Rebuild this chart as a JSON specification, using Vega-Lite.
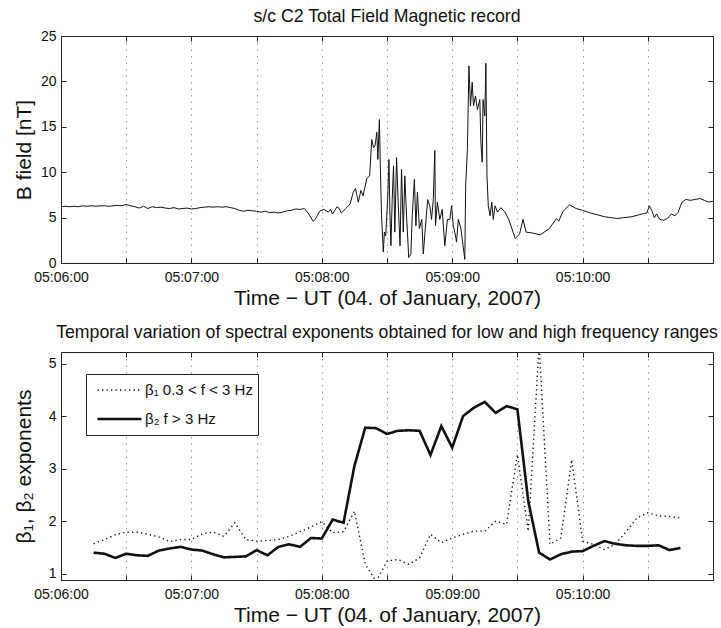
{
  "$schema": "https://vega.github.io/schema/vega-lite/v6.json",
  "padding": {"left": 12, "top": 7, "right": 4, "bottom": 4},
  "spacing": 14,
  "resolve": {"legend": {"strokeDash": "independent", "strokeWidth": "independent"}},
  "config": {
    "font": "Liberation Sans",
    "view": {"stroke": "#222", "strokeWidth": 1},
    "axis": {"domainColor": "#222", "tickColor": "#222", "labelColor": "#111", "titleColor": "#111", "labelFontSize": 14, "titleFontSize": 21, "titleFontWeight": "normal", "tickSize": -5, "labelFlush": false},
    "title": {"fontSize": 17.7, "fontWeight": "normal", "color": "#111"}
  },
  "vconcat": [
    {
      "width": 652,
      "height": 227,
      "title": {"text": "s/c C2 Total Field Magnetic record", "offset": 3},
      "data": {"values": [
        {"s":0,"B":6.2},{"s":2,"B":6.25},{"s":4,"B":6.2},{"s":6,"B":6.25},{"s":8,"B":6.2},{"s":10,"B":6.3},{"s":12,"B":6.25},{"s":14,"B":6.3},{"s":16,"B":6.25},{"s":18,"B":6.3},{"s":20,"B":6.3},{"s":22,"B":6.25},{"s":24,"B":6.3},{"s":26,"B":6.35},{"s":28,"B":6.3},{"s":30,"B":6.45},{"s":32,"B":6.3},{"s":34,"B":6.2},{"s":36,"B":6.05},{"s":38,"B":6.25},{"s":40,"B":6.0},{"s":42,"B":6.2},{"s":44,"B":6.1},{"s":46,"B":6.15},{"s":48,"B":6.05},{"s":50,"B":6.0},{"s":52,"B":6.1},{"s":54,"B":5.95},{"s":56,"B":6.0},{"s":58,"B":6.05},{"s":60,"B":5.95},{"s":62,"B":6.0},{"s":64,"B":6.1},{"s":66,"B":6.15},{"s":68,"B":6.2},{"s":70,"B":6.15},{"s":72,"B":6.2},{"s":74,"B":6.15},{"s":76,"B":6.2},{"s":78,"B":6.1},{"s":80,"B":6.0},{"s":82,"B":5.8},{"s":84,"B":5.7},{"s":86,"B":5.8},{"s":88,"B":5.75},{"s":90,"B":5.7},{"s":92,"B":5.6},{"s":94,"B":5.7},{"s":96,"B":5.55},{"s":98,"B":5.6},{"s":100,"B":5.5},{"s":102,"B":5.6},{"s":104,"B":5.75},{"s":106,"B":5.8},{"s":108,"B":5.95},{"s":110,"B":5.9},{"s":112,"B":6.0},{"s":114,"B":5.4},{"s":116,"B":4.6},{"s":117,"B":4.8},{"s":119,"B":5.7},{"s":121,"B":5.9},{"s":123,"B":5.6},{"s":124,"B":5.9},{"s":125,"B":5.4},{"s":127,"B":6.2},{"s":128,"B":6.0},{"s":129,"B":5.5},{"s":131,"B":6.0},{"s":133,"B":6.5},{"s":134.5,"B":7.8},{"s":135.5,"B":8.2},{"s":136.8,"B":6.7},{"s":138,"B":8.0},{"s":139,"B":7.4},{"s":140.7,"B":9.3},{"s":142,"B":9.6},{"s":143,"B":13.6},{"s":143.8,"B":12.7},{"s":144.5,"B":12.9},{"s":145.3,"B":14.4},{"s":145.8,"B":11.4},{"s":146.5,"B":15.8},{"s":147,"B":9.9},{"s":147.5,"B":5.2},{"s":148.3,"B":1.2},{"s":148.8,"B":3.4},{"s":149.4,"B":3.0},{"s":150.3,"B":7.0},{"s":150.9,"B":11.4},{"s":151.3,"B":5.9},{"s":151.8,"B":1.9},{"s":152.4,"B":7.0},{"s":153,"B":10.7},{"s":153.6,"B":3.4},{"s":154.4,"B":11.6},{"s":155.2,"B":6.3},{"s":156,"B":1.9},{"s":156.7,"B":10.3},{"s":157.5,"B":3.4},{"s":158.2,"B":9.6},{"s":159,"B":5.2},{"s":160,"B":0.6},{"s":161,"B":1.0},{"s":161.6,"B":5.2},{"s":162.6,"B":9.2},{"s":163.3,"B":4.1},{"s":164,"B":7.8},{"s":164.9,"B":3.8},{"s":166,"B":4.8},{"s":166.7,"B":1.0},{"s":167.5,"B":3.4},{"s":168.7,"B":7.0},{"s":169.7,"B":6.3},{"s":170.5,"B":4.8},{"s":171.3,"B":7.0},{"s":172,"B":12.4},{"s":172.3,"B":4.1},{"s":173.2,"B":6.7},{"s":174.3,"B":4.8},{"s":175.4,"B":5.9},{"s":176.6,"B":1.9},{"s":177.8,"B":4.8},{"s":178.9,"B":4.8},{"s":179.7,"B":6.3},{"s":180.5,"B":4.1},{"s":181.2,"B":3.4},{"s":182,"B":2.3},{"s":182.8,"B":4.8},{"s":184,"B":3.8},{"s":185,"B":1.9},{"s":185.8,"B":0.4},{"s":186.2,"B":8.5},{"s":187,"B":12.6},{"s":187.7,"B":21.7},{"s":188.4,"B":17.3},{"s":189.2,"B":19.9},{"s":189.8,"B":17.3},{"s":190.7,"B":18.4},{"s":191.6,"B":16.9},{"s":192.7,"B":18.0},{"s":193.2,"B":13.3},{"s":193.8,"B":11.1},{"s":194.2,"B":18.0},{"s":195,"B":16.2},{"s":195.5,"B":22.0},{"s":196,"B":9.6},{"s":196.6,"B":6.3},{"s":197.4,"B":5.2},{"s":198.2,"B":6.7},{"s":198.9,"B":4.8},{"s":199.7,"B":6.3},{"s":200.9,"B":5.6},{"s":202.4,"B":6.1},{"s":204.3,"B":5.6},{"s":206,"B":4.8},{"s":208,"B":3.4},{"s":209,"B":2.7},{"s":211,"B":3.2},{"s":212.6,"B":4.8},{"s":214,"B":3.4},{"s":217,"B":3.3},{"s":220.5,"B":3.1},{"s":224.7,"B":3.8},{"s":228,"B":4.9},{"s":229,"B":4.6},{"s":231,"B":5.7},{"s":234,"B":6.4},{"s":237,"B":6.0},{"s":240,"B":5.8},{"s":243.7,"B":5.5},{"s":247,"B":5.3},{"s":250,"B":5.1},{"s":253,"B":5.0},{"s":256,"B":4.9},{"s":259,"B":5.0},{"s":262.7,"B":5.1},{"s":265.8,"B":5.3},{"s":268,"B":5.45},{"s":269.6,"B":5.5},{"s":270.7,"B":6.3},{"s":272,"B":5.7},{"s":273,"B":5.0},{"s":274,"B":5.4},{"s":275.5,"B":4.8},{"s":277.3,"B":4.7},{"s":279,"B":4.9},{"s":280.8,"B":5.4},{"s":282.5,"B":5.2},{"s":284,"B":5.6},{"s":285.7,"B":6.7},{"s":287.5,"B":7.0},{"s":289.6,"B":6.9},{"s":291.7,"B":7.0},{"s":294.1,"B":7.1},{"s":296,"B":6.9},{"s":298,"B":6.7},{"s":300,"B":6.8}
      ]},
      "layer": [
        {
          "mark": {"type": "line", "color": "#111", "strokeWidth": 1, "clip": true},
          "encoding": {
            "x": {"field": "s", "type": "quantitative", "scale": {"domain": [0, 300], "nice": false},
              "axis": {"values": [0,30,60,90,120,150,180,210,240,270], "labelExpr": "datum.value % 60 == 0 ? '05:' + (datum.value < 240 ? '0' : '') + (6 + datum.value / 60) + ':00' : ''", "grid": true, "gridDash": [1.5, 5], "gridColor": "#999", "labelPadding": 12, "title": "Time − UT (04. of January, 2007)", "titlePadding": 3}},
            "y": {"field": "B", "type": "quantitative", "scale": {"domain": [0, 25], "nice": false},
              "axis": {"values": [0,5,10,15,20,25], "grid": false, "title": "B field [nT]", "labelPadding": 10, "minExtent": 22, "maxExtent": 22, "titlePadding": 5}}
          }
        },
        {
          "mark": {"type": "line", "opacity": 0},
          "encoding": {
            "x": {"field": "s", "type": "quantitative", "scale": {"domain": [0, 300], "nice": false},
              "axis": {"orient": "top", "values": [30,60,90,120,150,180,210,240,270], "labels": false, "title": null, "grid": false, "domain": false}},
            "y": {"field": "B", "type": "quantitative", "scale": {"domain": [0, 25], "nice": false},
              "axis": {"orient": "right", "values": [5,10,15,20], "labels": false, "title": null, "grid": false, "domain": false}}
          }
        }
      ],
      "resolve": {"axis": {"x": "independent", "y": "independent"}}
    },
    {
      "width": 652,
      "height": 228,
      "title": {"text": "Temporal variation of spectral exponents obtained for low and high frequency ranges", "offset": 3},
      "data": {"values": [
        {"s":15,"series":"β₂ f > 3 Hz","v":1.40},{"s":20,"series":"β₂ f > 3 Hz","v":1.38},{"s":25,"series":"β₂ f > 3 Hz","v":1.30},{"s":30,"series":"β₂ f > 3 Hz","v":1.38},{"s":35,"series":"β₂ f > 3 Hz","v":1.35},{"s":40,"series":"β₂ f > 3 Hz","v":1.34},{"s":45,"series":"β₂ f > 3 Hz","v":1.44},{"s":50,"series":"β₂ f > 3 Hz","v":1.48},{"s":55,"series":"β₂ f > 3 Hz","v":1.51},{"s":60,"series":"β₂ f > 3 Hz","v":1.46},{"s":65,"series":"β₂ f > 3 Hz","v":1.44},{"s":70,"series":"β₂ f > 3 Hz","v":1.37},{"s":75,"series":"β₂ f > 3 Hz","v":1.31},{"s":80,"series":"β₂ f > 3 Hz","v":1.32},{"s":85,"series":"β₂ f > 3 Hz","v":1.33},{"s":90,"series":"β₂ f > 3 Hz","v":1.45},{"s":95,"series":"β₂ f > 3 Hz","v":1.35},{"s":100,"series":"β₂ f > 3 Hz","v":1.51},{"s":105,"series":"β₂ f > 3 Hz","v":1.56},{"s":110,"series":"β₂ f > 3 Hz","v":1.51},{"s":115,"series":"β₂ f > 3 Hz","v":1.68},{"s":120,"series":"β₂ f > 3 Hz","v":1.67},{"s":125,"series":"β₂ f > 3 Hz","v":2.03},{"s":130,"series":"β₂ f > 3 Hz","v":1.97},{"s":135,"series":"β₂ f > 3 Hz","v":3.05},{"s":140,"series":"β₂ f > 3 Hz","v":3.78},{"s":145,"series":"β₂ f > 3 Hz","v":3.77},{"s":150,"series":"β₂ f > 3 Hz","v":3.66},{"s":155,"series":"β₂ f > 3 Hz","v":3.72},{"s":160,"series":"β₂ f > 3 Hz","v":3.73},{"s":165,"series":"β₂ f > 3 Hz","v":3.72},{"s":170,"series":"β₂ f > 3 Hz","v":3.26},{"s":175,"series":"β₂ f > 3 Hz","v":3.81},{"s":180,"series":"β₂ f > 3 Hz","v":3.40},{"s":185,"series":"β₂ f > 3 Hz","v":4.00},{"s":190,"series":"β₂ f > 3 Hz","v":4.16},{"s":195,"series":"β₂ f > 3 Hz","v":4.27},{"s":200,"series":"β₂ f > 3 Hz","v":4.06},{"s":205,"series":"β₂ f > 3 Hz","v":4.19},{"s":210,"series":"β₂ f > 3 Hz","v":4.13},{"s":215,"series":"β₂ f > 3 Hz","v":2.38},{"s":220,"series":"β₂ f > 3 Hz","v":1.40},{"s":225,"series":"β₂ f > 3 Hz","v":1.27},{"s":230,"series":"β₂ f > 3 Hz","v":1.37},{"s":235,"series":"β₂ f > 3 Hz","v":1.42},{"s":240,"series":"β₂ f > 3 Hz","v":1.43},{"s":245,"series":"β₂ f > 3 Hz","v":1.53},{"s":250,"series":"β₂ f > 3 Hz","v":1.62},{"s":255,"series":"β₂ f > 3 Hz","v":1.57},{"s":260,"series":"β₂ f > 3 Hz","v":1.54},{"s":265,"series":"β₂ f > 3 Hz","v":1.53},{"s":270,"series":"β₂ f > 3 Hz","v":1.53},{"s":275,"series":"β₂ f > 3 Hz","v":1.54},{"s":280,"series":"β₂ f > 3 Hz","v":1.45},{"s":285,"series":"β₂ f > 3 Hz","v":1.49},
        {"s":15,"series":"β₁ 0.3 < f < 3 Hz","v":1.57},{"s":20,"series":"β₁ 0.3 < f < 3 Hz","v":1.65},{"s":25,"series":"β₁ 0.3 < f < 3 Hz","v":1.74},{"s":30,"series":"β₁ 0.3 < f < 3 Hz","v":1.79},{"s":35,"series":"β₁ 0.3 < f < 3 Hz","v":1.79},{"s":40,"series":"β₁ 0.3 < f < 3 Hz","v":1.75},{"s":45,"series":"β₁ 0.3 < f < 3 Hz","v":1.70},{"s":50,"series":"β₁ 0.3 < f < 3 Hz","v":1.61},{"s":55,"series":"β₁ 0.3 < f < 3 Hz","v":1.65},{"s":60,"series":"β₁ 0.3 < f < 3 Hz","v":1.65},{"s":65,"series":"β₁ 0.3 < f < 3 Hz","v":1.76},{"s":70,"series":"β₁ 0.3 < f < 3 Hz","v":1.79},{"s":75,"series":"β₁ 0.3 < f < 3 Hz","v":1.71},{"s":80,"series":"β₁ 0.3 < f < 3 Hz","v":1.97},{"s":85,"series":"β₁ 0.3 < f < 3 Hz","v":1.65},{"s":90,"series":"β₁ 0.3 < f < 3 Hz","v":1.62},{"s":95,"series":"β₁ 0.3 < f < 3 Hz","v":1.63},{"s":100,"series":"β₁ 0.3 < f < 3 Hz","v":1.65},{"s":105,"series":"β₁ 0.3 < f < 3 Hz","v":1.71},{"s":110,"series":"β₁ 0.3 < f < 3 Hz","v":1.80},{"s":115,"series":"β₁ 0.3 < f < 3 Hz","v":1.89},{"s":120,"series":"β₁ 0.3 < f < 3 Hz","v":1.99},{"s":125,"series":"β₁ 0.3 < f < 3 Hz","v":1.78},{"s":130,"series":"β₁ 0.3 < f < 3 Hz","v":1.80},{"s":135,"series":"β₁ 0.3 < f < 3 Hz","v":2.19},{"s":140,"series":"β₁ 0.3 < f < 3 Hz","v":1.18},{"s":145,"series":"β₁ 0.3 < f < 3 Hz","v":0.85},{"s":150,"series":"β₁ 0.3 < f < 3 Hz","v":1.24},{"s":155,"series":"β₁ 0.3 < f < 3 Hz","v":1.27},{"s":160,"series":"β₁ 0.3 < f < 3 Hz","v":1.18},{"s":165,"series":"β₁ 0.3 < f < 3 Hz","v":1.30},{"s":170,"series":"β₁ 0.3 < f < 3 Hz","v":1.75},{"s":175,"series":"β₁ 0.3 < f < 3 Hz","v":1.59},{"s":180,"series":"β₁ 0.3 < f < 3 Hz","v":1.68},{"s":185,"series":"β₁ 0.3 < f < 3 Hz","v":1.75},{"s":190,"series":"β₁ 0.3 < f < 3 Hz","v":1.81},{"s":195,"series":"β₁ 0.3 < f < 3 Hz","v":1.81},{"s":200,"series":"β₁ 0.3 < f < 3 Hz","v":2.00},{"s":205,"series":"β₁ 0.3 < f < 3 Hz","v":1.94},{"s":210,"series":"β₁ 0.3 < f < 3 Hz","v":3.27},{"s":215,"series":"β₁ 0.3 < f < 3 Hz","v":1.81},{"s":220,"series":"β₁ 0.3 < f < 3 Hz","v":5.35},{"s":225,"series":"β₁ 0.3 < f < 3 Hz","v":1.56},{"s":230,"series":"β₁ 0.3 < f < 3 Hz","v":1.68},{"s":235,"series":"β₁ 0.3 < f < 3 Hz","v":3.17},{"s":240,"series":"β₁ 0.3 < f < 3 Hz","v":1.62},{"s":245,"series":"β₁ 0.3 < f < 3 Hz","v":1.56},{"s":250,"series":"β₁ 0.3 < f < 3 Hz","v":1.46},{"s":255,"series":"β₁ 0.3 < f < 3 Hz","v":1.56},{"s":260,"series":"β₁ 0.3 < f < 3 Hz","v":1.80},{"s":265,"series":"β₁ 0.3 < f < 3 Hz","v":2.06},{"s":270,"series":"β₁ 0.3 < f < 3 Hz","v":2.16},{"s":275,"series":"β₁ 0.3 < f < 3 Hz","v":2.10},{"s":280,"series":"β₁ 0.3 < f < 3 Hz","v":2.09},{"s":285,"series":"β₁ 0.3 < f < 3 Hz","v":2.06}
      ]},
      "layer": [
        {
          "mark": {"type": "line", "color": "#111", "clip": true},
          "encoding": {
            "x": {"field": "s", "type": "quantitative", "scale": {"domain": [0, 300], "nice": false},
              "axis": {"values": [0,30,60,90,120,150,180,210,240,270], "labelExpr": "datum.value % 60 == 0 ? '05:' + (datum.value < 240 ? '0' : '') + (6 + datum.value / 60) + ':00' : ''", "grid": true, "gridDash": [1.5, 5], "gridColor": "#999", "labelPadding": 12, "title": "Time − UT (04. of January, 2007)", "titlePadding": 3}},
            "y": {"field": "v", "type": "quantitative", "scale": {"domain": [0.88, 5.22], "nice": false, "zero": false},
              "axis": {"values": [1,2,3,4,5], "grid": false, "title": "β₁, β₂ exponents", "labelPadding": 10, "minExtent": 22, "maxExtent": 22, "titlePadding": 5}},
            "strokeDash": {"field": "series", "type": "nominal",
              "scale": {"domain": ["β₁ 0.3 < f < 3 Hz", "β₂ f > 3 Hz"], "range": [[1.3, 3.2], [1, 0]]},
              "legend": {"title": null, "orient": "none", "legendX": 25, "legendY": 22, "strokeColor": "#222", "fillColor": "white", "padding": 5, "symbolType": "stroke", "symbolSize": 1936, "symbolStrokeColor": "#111", "symbolOffset": 5, "clipHeight": 22, "rowPadding": 7, "labelFontSize": 15, "labelColor": "#111", "labelOffset": 2}},
            "strokeWidth": {"field": "series", "type": "ordinal",
              "scale": {"domain": ["β₁ 0.3 < f < 3 Hz", "β₂ f > 3 Hz"], "range": [1.4, 2.6]},
              "legend": {"title": null, "orient": "none", "legendX": 25, "legendY": 22, "strokeColor": "#222", "fillColor": "white", "padding": 5, "symbolType": "stroke", "symbolSize": 1936, "symbolStrokeColor": "#111", "symbolOffset": 5, "clipHeight": 22, "rowPadding": 7, "labelFontSize": 15, "labelColor": "#111", "labelOffset": 2}}
          }
        },
        {
          "mark": {"type": "line", "opacity": 0},
          "encoding": {
            "x": {"field": "s", "type": "quantitative", "scale": {"domain": [0, 300], "nice": false},
              "axis": {"orient": "top", "values": [30,60,90,120,150,180,210,240,270], "labels": false, "title": null, "grid": false, "domain": false}},
            "y": {"field": "v", "type": "quantitative", "scale": {"domain": [0.88, 5.22], "nice": false, "zero": false},
              "axis": {"orient": "right", "values": [1,2,3,4,5], "labels": false, "title": null, "grid": false, "domain": false}}
          }
        }
      ],
      "resolve": {"axis": {"x": "independent", "y": "independent"}}
    }
  ]
}
